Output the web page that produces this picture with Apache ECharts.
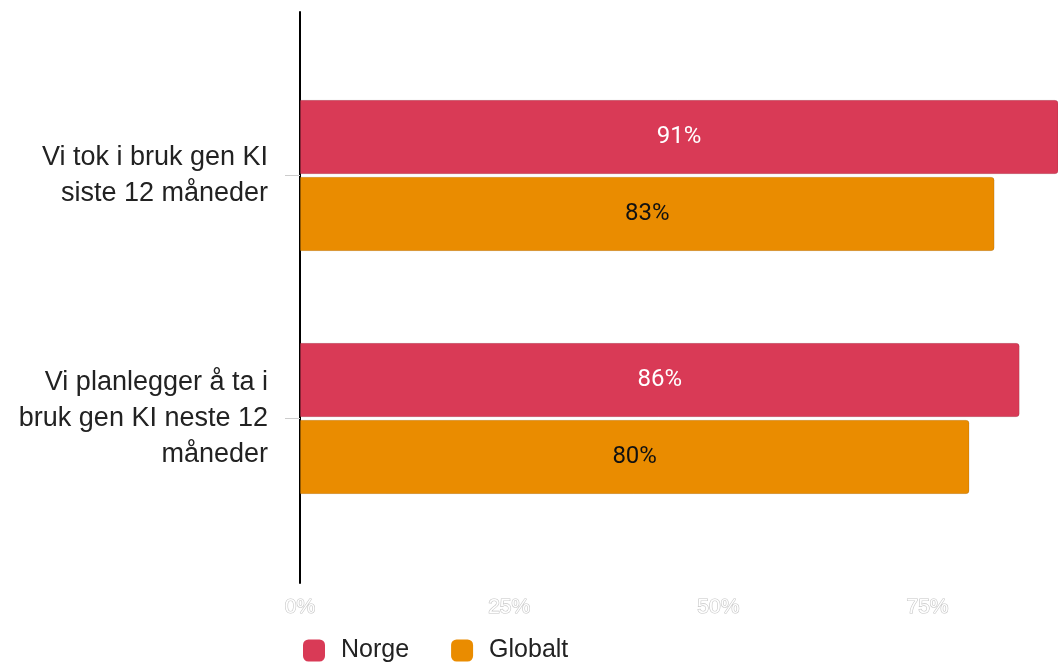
<!DOCTYPE html>
<html>
<head>
<meta charset="utf-8">
<script src="https://cdn.jsdelivr.net/npm/echarts@6/dist/echarts.min.js"></script>
<style>html,body{margin:0;padding:0;background:#fff}#c{width:1058px;height:662px}</style>
</head>
<body>
<div id="c"></div>
<script>
const categories = ["Vi tok i bruk gen KI\nsiste 12 måneder", "Vi planlegger å ta i\nbruk gen KI neste 12\nmåneder"];
const norge = [91, 86];
const globalt = [83, 80];
const seriesNames = ["Norge", "Globalt"];
// visible part of the value axis (the original chart is cropped at the right edge)
const axisMax = 90.6;

const chart = echarts.init(document.getElementById('c'));
const font = '"Liberation Sans", Arial, sans-serif';
chart.setOption({
  animation: false,
  grid: [
    {left: 300, right: 0, top: 54, bottom: 122},
    {left: 300, right: 0, top: 12, bottom: 79}
  ],
  legend: {
    left: 298, top: 633, itemWidth: 22, itemHeight: 22, itemGap: 42,
    icon: 'roundRect',
    itemStyle: {borderWidth: 0},
    textStyle: {fontFamily: font, fontSize: 25, color: '#222', padding: [0, 0, 0, 11]},
    data: seriesNames
  },
  xAxis: [
    {gridIndex: 0, type: 'value', min: 0, max: axisMax, show: false},
    {gridIndex: 1, type: 'value', min: 0, max: axisMax, interval: 25,
     axisLine: {show: false}, axisTick: {show: false}, splitLine: {show: false},
     axisLabel: {formatter: '{value}%', fontFamily: font, fontSize: 21, color: '#fff', showMaxLabel: false,
                 textBorderColor: '#c4c4c4', textBorderWidth: 1.2, margin: 14}}
  ],
  yAxis: [
    {gridIndex: 0, type: 'category', inverse: true, data: categories,
     axisLine: {show: false},
     axisTick: {show: true, alignWithLabel: true, length: 15, lineStyle: {color: '#ccc'}},
     axisLabel: {fontFamily: font, fontSize: 27, color: '#222', lineHeight: 36, margin: 32, align: 'right'}},
    {gridIndex: 1, type: 'value', min: 0, max: 1,
     axisLine: {show: true, onZero: false, lineStyle: {color: '#000', width: 2}},
     axisTick: {show: false}, axisLabel: {show: false}, splitLine: {show: false}}
  ],
  series: [
    {name: seriesNames[0], type: 'bar', xAxisIndex: 0, yAxisIndex: 0, data: norge,
     barWidth: 74, barGap: '4%', clip: true,
     itemStyle: {color: '#D93A56', borderRadius: [0, 3, 3, 0], borderColor: 'rgba(0,0,0,0.18)', borderWidth: 0.6},
     label: {show: true, position: 'inside', formatter: '{c}%', color: '#fff', fontFamily: 'Roboto, sans-serif', fontSize: 24}},
    {name: seriesNames[1], type: 'bar', xAxisIndex: 0, yAxisIndex: 0, data: globalt,
     barWidth: 74, barGap: '4%', clip: true,
     itemStyle: {color: '#EA8C00', borderRadius: [0, 3, 3, 0], borderColor: 'rgba(0,0,0,0.18)', borderWidth: 0.6},
     label: {show: true, position: 'inside', formatter: '{c}%', color: '#111', fontFamily: 'Roboto, sans-serif', fontSize: 24}}
  ]
});
</script>
</body>
</html>
